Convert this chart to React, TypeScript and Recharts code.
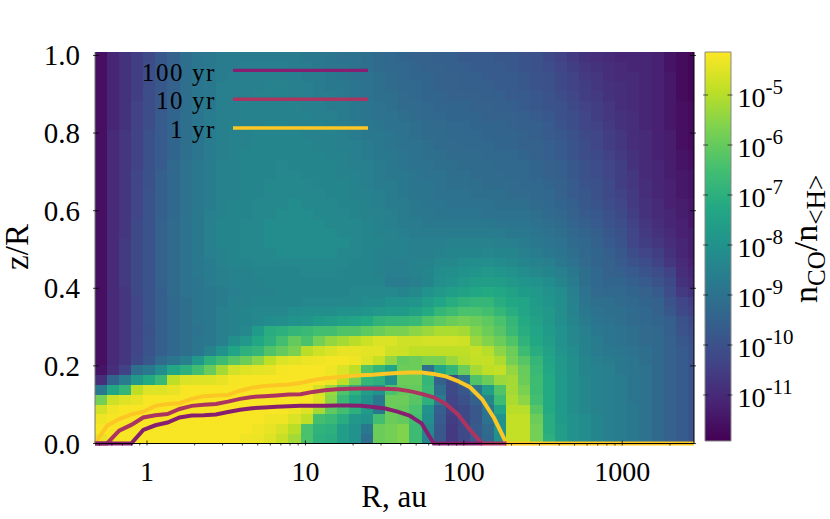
import { BarChart, Bar, ScatterChart, Scatter, XAxis, YAxis } from "recharts";

// log10 of n_CO/n_<H>, one row per z
const row00 = [-4.4,-4.2,-4.2,-4.2,-4.2,-4.2,-4.2,-4.2,-4.2,-4.2,-4.2,-4.2,-4.3,-4.35,-4.5,-4.8,-5.2,-6.4,-7.0,-7.1,-7.6,-8.0,-9.1,-5.9,-5.8,-5.6,-6.6,-8.4,-9.8,-10.6,-10.2,-9.7,-9.3,-8.1,-4.85,-4.85,-5.8,-7.0,-7.6,-8.0,-8.2,-8.4,-8.6,-8.7,-8.8,-9.0,-9.3,-9.5,-9.7,-9.9];
const row01 = [-4.2,-4.2,-4.2,-4.2,-4.2,-4.2,-4.2,-4.2,-4.2,-4.2,-4.2,-4.2,-4.2,-4.3,-4.4,-4.6,-4.95,-6.4,-6.9,-7.0,-7.6,-8.0,-8.8,-5.9,-5.8,-5.6,-6.6,-8.3,-9.8,-10.6,-10.2,-9.7,-9.2,-8.0,-4.85,-4.85,-5.8,-7.1,-7.6,-8.0,-8.2,-8.4,-8.6,-8.7,-8.8,-9.0,-9.3,-9.5,-9.7,-9.9];
const row02 = [-4.3,-4.2,-4.2,-4.2,-4.2,-4.2,-4.2,-4.2,-4.2,-4.2,-4.2,-4.2,-4.2,-4.2,-4.3,-4.3,-4.55,-4.9,-6.5,-6.7,-7.1,-7.8,-8.0,-6.5,-5.9,-6.0,-6.5,-8.1,-9.7,-10.5,-10.2,-9.8,-9.0,-8.0,-4.85,-4.85,-5.9,-7.1,-7.7,-8.0,-8.2,-8.4,-8.6,-8.7,-8.8,-9.0,-9.3,-9.5,-9.7,-9.9];
const row03 = [-4.65,-4.3,-4.2,-4.2,-4.2,-4.2,-4.2,-4.2,-4.2,-4.2,-4.2,-4.2,-4.2,-4.2,-4.2,-4.2,-4.3,-4.5,-5.2,-6.1,-6.5,-7.0,-7.7,-8.8,-5.9,-6.0,-6.4,-8.0,-9.6,-10.4,-10.2,-9.8,-8.9,-7.4,-4.95,-5.0,-6.2,-7.2,-7.7,-8.1,-8.3,-8.5,-8.6,-8.7,-8.8,-9.0,-9.3,-9.5,-9.7,-9.9];
const row04 = [-5.8,-4.7,-4.5,-4.4,-4.2,-4.2,-4.2,-4.2,-4.2,-4.2,-4.2,-4.2,-4.2,-4.2,-4.2,-4.2,-4.2,-4.2,-4.5,-5.5,-6.7,-7.3,-8.0,-8.8,-5.9,-5.9,-6.2,-7.0,-8.7,-10.3,-10.0,-9.5,-8.4,-6.6,-5.1,-5.5,-6.5,-7.2,-7.7,-8.1,-8.3,-8.5,-8.6,-8.7,-8.9,-9.0,-9.3,-9.5,-9.7,-9.9];
const row05 = [-8.8,-7.3,-6.8,-4.9,-4.5,-4.5,-4.4,-4.2,-4.2,-4.2,-4.2,-4.2,-4.2,-4.2,-4.2,-4.2,-4.2,-4.2,-4.6,-5.3,-6.3,-6.9,-7.6,-8.0,-6.4,-6.0,-6.0,-6.7,-9.1,-10.2,-9.8,-8.9,-7.6,-6.3,-5.2,-5.7,-6.6,-7.2,-7.7,-8.1,-8.3,-8.5,-8.6,-8.7,-8.9,-9.0,-9.3,-9.5,-9.7,-9.9];
const row06 = [-10.9,-9.4,-8.7,-7.8,-7.2,-6.7,-4.9,-4.55,-4.5,-4.5,-4.4,-4.25,-4.2,-4.2,-4.2,-4.2,-4.2,-4.2,-4.2,-4.3,-4.9,-5.7,-6.8,-7.0,-8.1,-5.9,-5.9,-6.8,-9.5,-10.2,-9.0,-6.3,-5.9,-5.3,-5.2,-5.9,-6.6,-7.2,-7.7,-8.1,-8.3,-8.5,-8.6,-8.7,-8.9,-9.0,-9.3,-9.5,-9.7,-9.9];
const row07 = [-11.5,-10.9,-10.4,-9.1,-8.8,-8.2,-7.3,-7.0,-6.5,-5.95,-5.2,-4.65,-4.5,-4.45,-4.4,-4.25,-4.2,-4.2,-4.2,-4.3,-4.55,-4.9,-6.3,-6.8,-7.4,-5.9,-5.9,-9.1,-7.4,-6.8,-5.9,-5.2,-4.9,-4.85,-5.4,-5.95,-6.7,-7.3,-7.8,-8.1,-8.4,-8.5,-8.6,-8.8,-8.9,-9.0,-9.3,-9.5,-9.7,-9.9];
const row08 = [-11.6,-11.0,-10.7,-10.2,-9.8,-9.2,-8.9,-8.6,-7.8,-7.0,-6.6,-6.2,-5.9,-5.5,-4.9,-4.55,-4.45,-4.35,-4.3,-4.25,-4.25,-4.3,-4.5,-4.8,-5.4,-6.0,-5.9,-5.7,-5.7,-5.3,-5.0,-4.85,-4.85,-5.1,-5.8,-6.2,-6.8,-7.4,-7.8,-8.1,-8.4,-8.6,-8.7,-8.8,-8.9,-9.1,-9.3,-9.5,-9.7,-9.9];
const row09 = [-11.6,-11.0,-10.7,-10.3,-9.9,-9.6,-9.3,-9.1,-8.9,-8.5,-8.0,-7.4,-7.0,-6.8,-6.3,-6.0,-5.7,-4.95,-4.7,-4.55,-4.4,-4.4,-4.45,-4.45,-4.7,-4.75,-4.9,-4.9,-4.9,-4.9,-4.9,-4.8,-5.0,-5.5,-5.9,-6.6,-7.1,-7.5,-7.9,-8.2,-8.5,-8.7,-8.8,-8.9,-9.0,-9.1,-9.3,-9.5,-9.7,-9.9];
const row10 = [-11.6,-11.0,-10.7,-10.3,-9.9,-9.6,-9.3,-9.1,-8.9,-8.8,-8.6,-8.1,-7.8,-7.3,-7.0,-6.5,-6.0,-6.4,-5.8,-5.4,-5.2,-4.95,-4.75,-4.55,-4.55,-4.7,-4.7,-4.65,-4.65,-4.65,-4.7,-5.3,-5.6,-5.9,-6.3,-6.9,-7.3,-7.6,-8.0,-8.3,-8.5,-8.7,-8.9,-9.0,-9.1,-9.2,-9.3,-9.5,-9.8,-10.0];
const row11 = [-11.6,-11.0,-10.7,-10.3,-10.0,-9.6,-9.3,-9.1,-9.0,-8.8,-8.6,-8.5,-8.3,-7.7,-7.1,-7.0,-6.8,-6.7,-6.5,-6.5,-6.3,-6.3,-6.1,-5.9,-5.7,-5.7,-5.5,-5.3,-5.1,-5.1,-5.2,-5.6,-5.9,-6.2,-6.7,-7.1,-7.4,-7.7,-8.0,-8.3,-8.6,-8.8,-8.9,-9.0,-9.1,-9.2,-9.3,-9.6,-9.9,-10.1];
const row12 = [-11.6,-11.0,-10.7,-10.3,-9.9,-9.6,-9.3,-9.1,-8.9,-8.8,-8.6,-8.5,-8.4,-8.3,-8.2,-8.1,-8.0,-7.9,-7.7,-7.6,-7.5,-7.4,-7.2,-6.9,-6.8,-6.8,-6.7,-6.3,-6.1,-5.9,-5.8,-5.9,-6.1,-6.4,-6.8,-7.2,-7.5,-7.8,-8.1,-8.4,-8.7,-8.9,-9.0,-9.1,-9.2,-9.3,-9.4,-9.6,-10.0,-10.2];
const row13 = [-11.6,-11.0,-10.7,-10.3,-9.9,-9.6,-9.3,-9.1,-8.9,-8.8,-8.6,-8.5,-8.4,-8.3,-8.3,-8.3,-8.2,-8.1,-8.1,-8.1,-8.0,-8.0,-7.9,-7.8,-7.7,-7.7,-7.5,-7.2,-6.8,-6.6,-6.4,-6.4,-6.5,-6.8,-7.1,-7.4,-7.6,-7.8,-8.1,-8.5,-8.8,-9.0,-9.1,-9.1,-9.2,-9.3,-9.5,-9.8,-10.2,-10.4];
const row14 = [-11.6,-11.0,-10.7,-10.3,-9.9,-9.6,-9.3,-9.1,-8.9,-8.8,-8.7,-8.5,-8.5,-8.4,-8.4,-8.4,-8.4,-8.3,-8.3,-8.3,-8.3,-8.3,-8.2,-8.2,-8.0,-8.0,-7.9,-7.6,-7.4,-7.1,-6.9,-6.8,-6.8,-7.1,-7.3,-7.4,-7.7,-7.9,-8.1,-8.5,-8.9,-9.1,-9.1,-9.2,-9.3,-9.4,-9.5,-9.9,-10.3,-10.5];
const row15 = [-11.6,-11.0,-10.7,-10.2,-9.9,-9.6,-9.2,-9.0,-8.9,-8.8,-8.7,-8.6,-8.5,-8.5,-8.5,-8.4,-8.4,-8.4,-8.4,-8.4,-8.4,-8.3,-8.3,-8.3,-8.3,-8.4,-8.3,-8.0,-7.8,-7.6,-7.5,-7.3,-7.2,-7.3,-7.5,-7.7,-7.8,-8.0,-8.2,-8.6,-9.0,-9.2,-9.3,-9.3,-9.4,-9.5,-9.7,-10.1,-10.6,-10.8];
const row16 = [-11.6,-11.0,-10.6,-10.2,-9.9,-9.5,-9.2,-9.0,-8.9,-8.7,-8.6,-8.5,-8.5,-8.5,-8.4,-8.4,-8.4,-8.4,-8.4,-8.4,-8.4,-8.4,-8.4,-8.4,-8.7,-8.7,-8.6,-8.4,-8.1,-8.0,-7.8,-7.6,-7.6,-7.6,-7.8,-7.9,-8.0,-8.2,-8.4,-8.7,-9.1,-9.3,-9.4,-9.4,-9.6,-9.7,-9.9,-10.2,-10.8,-11.0];
const row17 = [-11.6,-11.0,-10.6,-10.2,-9.9,-9.5,-9.2,-9.0,-8.8,-8.7,-8.6,-8.5,-8.5,-8.4,-8.4,-8.4,-8.4,-8.3,-8.3,-8.3,-8.4,-8.4,-8.4,-8.5,-8.6,-8.6,-8.5,-8.4,-8.2,-8.1,-8.0,-7.9,-7.8,-7.9,-8.0,-8.2,-8.3,-8.4,-8.6,-8.8,-9.1,-9.3,-9.5,-9.6,-9.7,-9.9,-10.1,-10.4,-10.9,-11.1];
const row18 = [-11.6,-11.0,-10.6,-10.2,-9.9,-9.5,-9.2,-9.0,-8.8,-8.7,-8.5,-8.4,-8.4,-8.3,-8.3,-8.3,-8.3,-8.3,-8.3,-8.3,-8.3,-8.4,-8.4,-8.5,-8.6,-8.6,-8.5,-8.5,-8.3,-8.3,-8.2,-8.1,-8.1,-8.2,-8.3,-8.4,-8.5,-8.6,-8.8,-9.0,-9.2,-9.4,-9.5,-9.7,-9.9,-10.1,-10.4,-10.7,-11.0,-11.2];
const row19 = [-11.6,-11.0,-10.6,-10.2,-9.9,-9.5,-9.2,-9.0,-8.8,-8.6,-8.5,-8.4,-8.3,-8.3,-8.3,-8.2,-8.2,-8.2,-8.2,-8.2,-8.3,-8.3,-8.4,-8.5,-8.5,-8.5,-8.6,-8.6,-8.5,-8.4,-8.4,-8.4,-8.3,-8.4,-8.4,-8.6,-8.7,-8.8,-8.9,-9.1,-9.3,-9.4,-9.6,-9.8,-10.1,-10.3,-10.5,-10.8,-11.1,-11.3];
const row20 = [-11.6,-11.0,-10.6,-10.2,-9.9,-9.5,-9.2,-9.0,-8.8,-8.6,-8.4,-8.4,-8.3,-8.3,-8.2,-8.2,-8.2,-8.2,-8.2,-8.2,-8.2,-8.3,-8.4,-8.4,-8.5,-8.5,-8.6,-8.6,-8.6,-8.5,-8.5,-8.5,-8.5,-8.6,-8.6,-8.7,-8.8,-8.9,-9.0,-9.2,-9.3,-9.5,-9.7,-9.9,-10.3,-10.5,-10.7,-10.9,-11.1,-11.3];
const row21 = [-11.6,-11.0,-10.7,-10.2,-9.9,-9.5,-9.2,-9.0,-8.8,-8.6,-8.4,-8.4,-8.3,-8.3,-8.2,-8.2,-8.2,-8.2,-8.2,-8.2,-8.3,-8.3,-8.4,-8.5,-8.5,-8.6,-8.7,-8.7,-8.7,-8.7,-8.7,-8.7,-8.7,-8.7,-8.8,-8.8,-8.9,-9.0,-9.1,-9.3,-9.4,-9.6,-9.8,-10.0,-10.3,-10.6,-10.8,-11.0,-11.2,-11.3];
const row22 = [-11.6,-11.0,-10.7,-10.2,-9.9,-9.5,-9.2,-9.0,-8.8,-8.6,-8.4,-8.4,-8.3,-8.3,-8.2,-8.2,-8.2,-8.2,-8.2,-8.3,-8.3,-8.3,-8.4,-8.5,-8.6,-8.7,-8.7,-8.8,-8.8,-8.8,-8.8,-8.8,-8.8,-8.9,-8.9,-8.9,-9.0,-9.1,-9.2,-9.4,-9.6,-9.7,-9.9,-10.1,-10.4,-10.7,-10.9,-11.1,-11.2,-11.4];
const row23 = [-11.6,-11.0,-10.7,-10.3,-9.9,-9.6,-9.3,-9.0,-8.8,-8.6,-8.5,-8.4,-8.4,-8.3,-8.3,-8.2,-8.2,-8.2,-8.3,-8.3,-8.3,-8.4,-8.5,-8.5,-8.6,-8.7,-8.8,-8.8,-8.9,-8.9,-8.9,-8.9,-9.0,-9.0,-9.0,-9.0,-9.1,-9.2,-9.3,-9.5,-9.7,-9.8,-10.0,-10.2,-10.5,-10.8,-11.0,-11.1,-11.3,-11.4];
const row24 = [-11.6,-11.0,-10.7,-10.3,-9.9,-9.6,-9.3,-9.0,-8.8,-8.7,-8.5,-8.4,-8.4,-8.3,-8.3,-8.3,-8.2,-8.3,-8.3,-8.3,-8.4,-8.4,-8.5,-8.6,-8.7,-8.7,-8.8,-8.9,-8.9,-9.0,-9.0,-9.0,-9.0,-9.1,-9.1,-9.1,-9.2,-9.3,-9.4,-9.6,-9.8,-9.9,-10.1,-10.3,-10.6,-10.8,-11.0,-11.2,-11.3,-11.4];
const row25 = [-11.6,-11.0,-10.7,-10.3,-9.9,-9.6,-9.3,-9.0,-8.8,-8.7,-8.5,-8.5,-8.4,-8.4,-8.3,-8.3,-8.3,-8.3,-8.3,-8.4,-8.4,-8.5,-8.5,-8.6,-8.7,-8.8,-8.9,-8.9,-9.0,-9.0,-9.0,-9.1,-9.1,-9.1,-9.2,-9.2,-9.3,-9.3,-9.5,-9.7,-9.8,-10.0,-10.2,-10.4,-10.6,-10.9,-11.1,-11.2,-11.4,-11.5];
const row26 = [-11.6,-11.0,-10.7,-10.3,-10.0,-9.6,-9.3,-9.0,-8.8,-8.7,-8.5,-8.5,-8.4,-8.4,-8.3,-8.3,-8.3,-8.3,-8.4,-8.4,-8.4,-8.5,-8.6,-8.7,-8.7,-8.8,-8.9,-8.9,-9.0,-9.1,-9.1,-9.1,-9.2,-9.2,-9.2,-9.3,-9.3,-9.4,-9.5,-9.7,-9.9,-10.0,-10.2,-10.5,-10.7,-10.9,-11.1,-11.2,-11.4,-11.5];
const row27 = [-11.6,-11.0,-10.7,-10.3,-10.0,-9.6,-9.3,-9.0,-8.8,-8.7,-8.5,-8.5,-8.4,-8.4,-8.4,-8.3,-8.3,-8.4,-8.4,-8.4,-8.5,-8.5,-8.6,-8.7,-8.8,-8.8,-8.9,-9.0,-9.0,-9.1,-9.1,-9.2,-9.2,-9.2,-9.3,-9.3,-9.4,-9.5,-9.6,-9.8,-10.0,-10.1,-10.3,-10.5,-10.7,-11.0,-11.1,-11.3,-11.4,-11.5];
const row28 = [-11.6,-11.0,-10.7,-10.4,-10.0,-9.7,-9.3,-9.0,-8.8,-8.7,-8.5,-8.5,-8.4,-8.4,-8.4,-8.3,-8.4,-8.4,-8.4,-8.4,-8.5,-8.6,-8.6,-8.7,-8.8,-8.9,-9.0,-9.0,-9.1,-9.1,-9.2,-9.2,-9.2,-9.3,-9.3,-9.3,-9.4,-9.5,-9.6,-9.8,-10.0,-10.1,-10.3,-10.5,-10.8,-11.0,-11.1,-11.3,-11.5,-11.6];
const row29 = [-11.6,-11.0,-10.7,-10.4,-10.0,-9.7,-9.4,-9.1,-8.9,-8.7,-8.6,-8.5,-8.4,-8.4,-8.4,-8.4,-8.4,-8.4,-8.4,-8.5,-8.5,-8.6,-8.7,-8.8,-8.8,-8.9,-9.0,-9.1,-9.1,-9.2,-9.2,-9.2,-9.3,-9.3,-9.3,-9.4,-9.5,-9.6,-9.7,-9.9,-10.1,-10.2,-10.4,-10.6,-10.8,-11.0,-11.2,-11.3,-11.5,-11.6];
const row30 = [-11.6,-11.0,-10.7,-10.4,-10.0,-9.7,-9.4,-9.1,-8.9,-8.7,-8.6,-8.5,-8.5,-8.4,-8.4,-8.4,-8.4,-8.4,-8.5,-8.5,-8.6,-8.6,-8.7,-8.8,-8.9,-9.0,-9.0,-9.1,-9.2,-9.2,-9.3,-9.3,-9.3,-9.4,-9.4,-9.5,-9.5,-9.6,-9.7,-9.9,-10.1,-10.3,-10.5,-10.7,-10.9,-11.0,-11.2,-11.3,-11.6,-11.7];
const row31 = [-11.6,-11.0,-10.7,-10.4,-10.0,-9.7,-9.4,-9.1,-8.9,-8.7,-8.6,-8.5,-8.5,-8.4,-8.4,-8.4,-8.4,-8.5,-8.5,-8.5,-8.6,-8.7,-8.8,-8.8,-8.9,-9.0,-9.1,-9.2,-9.2,-9.3,-9.3,-9.3,-9.4,-9.4,-9.4,-9.5,-9.6,-9.7,-9.8,-10.0,-10.2,-10.3,-10.5,-10.7,-10.9,-11.0,-11.2,-11.3,-11.6,-11.7];
const row32 = [-11.6,-11.1,-10.8,-10.4,-10.1,-9.7,-9.4,-9.1,-8.9,-8.7,-8.6,-8.5,-8.5,-8.5,-8.4,-8.4,-8.5,-8.5,-8.5,-8.6,-8.6,-8.7,-8.8,-8.9,-9.0,-9.0,-9.1,-9.2,-9.2,-9.3,-9.3,-9.4,-9.4,-9.4,-9.5,-9.6,-9.6,-9.7,-9.9,-10.1,-10.3,-10.4,-10.6,-10.8,-10.9,-11.1,-11.2,-11.4,-11.6,-11.7];
const row33 = [-11.6,-11.1,-10.8,-10.4,-10.1,-9.7,-9.4,-9.1,-8.9,-8.7,-8.6,-8.6,-8.5,-8.5,-8.5,-8.5,-8.5,-8.5,-8.6,-8.6,-8.7,-8.8,-8.9,-9.0,-9.0,-9.1,-9.2,-9.3,-9.3,-9.4,-9.4,-9.4,-9.5,-9.5,-9.5,-9.6,-9.7,-9.8,-10.0,-10.1,-10.3,-10.5,-10.7,-10.8,-10.9,-11.1,-11.2,-11.4,-11.6,-11.7];
const row34 = [-11.6,-11.1,-10.8,-10.4,-10.1,-9.8,-9.4,-9.1,-8.9,-8.8,-8.6,-8.6,-8.5,-8.5,-8.5,-8.5,-8.5,-8.6,-8.6,-8.7,-8.7,-8.8,-8.9,-9.0,-9.1,-9.2,-9.2,-9.3,-9.4,-9.4,-9.4,-9.5,-9.5,-9.6,-9.6,-9.7,-9.8,-9.9,-10.0,-10.2,-10.4,-10.5,-10.7,-10.9,-11.0,-11.1,-11.2,-11.4,-11.6,-11.7];
const row35 = [-11.6,-11.1,-10.8,-10.5,-10.1,-9.8,-9.5,-9.1,-8.9,-8.8,-8.6,-8.6,-8.6,-8.5,-8.5,-8.5,-8.6,-8.6,-8.7,-8.7,-8.8,-8.9,-9.0,-9.1,-9.1,-9.2,-9.3,-9.4,-9.4,-9.5,-9.5,-9.5,-9.6,-9.6,-9.7,-9.7,-9.8,-9.9,-10.1,-10.3,-10.5,-10.6,-10.8,-10.9,-11.0,-11.1,-11.2,-11.4,-11.7,-11.8];
const row36 = [-11.6,-11.1,-10.8,-10.5,-10.1,-9.8,-9.5,-9.1,-8.9,-8.8,-8.6,-8.6,-8.6,-8.6,-8.5,-8.5,-8.6,-8.6,-8.7,-8.8,-8.8,-8.9,-9.0,-9.1,-9.2,-9.3,-9.3,-9.4,-9.5,-9.5,-9.6,-9.6,-9.6,-9.7,-9.7,-9.8,-9.9,-10.0,-10.2,-10.4,-10.5,-10.7,-10.8,-10.9,-11.0,-11.1,-11.2,-11.4,-11.7,-11.8];
const row37 = [-11.6,-11.1,-10.8,-10.5,-10.1,-9.8,-9.5,-9.1,-8.9,-8.8,-8.7,-8.6,-8.6,-8.6,-8.6,-8.6,-8.6,-8.7,-8.7,-8.8,-8.9,-9.0,-9.0,-9.1,-9.2,-9.3,-9.4,-9.4,-9.5,-9.5,-9.6,-9.6,-9.7,-9.7,-9.7,-9.8,-9.9,-10.0,-10.2,-10.4,-10.6,-10.7,-10.9,-11.0,-11.0,-11.1,-11.2,-11.4,-11.7,-11.8];
const row38 = [-11.6,-11.1,-10.8,-10.5,-10.1,-9.8,-9.5,-9.1,-8.9,-8.8,-8.7,-8.7,-8.6,-8.6,-8.6,-8.6,-8.7,-8.7,-8.8,-8.9,-8.9,-9.0,-9.1,-9.2,-9.3,-9.3,-9.4,-9.5,-9.5,-9.6,-9.6,-9.7,-9.7,-9.7,-9.8,-9.9,-10.0,-10.1,-10.3,-10.5,-10.7,-10.8,-10.9,-11.0,-11.1,-11.1,-11.2,-11.5,-11.7,-11.8];
const row39 = [-11.6,-11.1,-10.8,-10.5,-10.2,-9.8,-9.5,-9.1,-8.9,-8.8,-8.7,-8.7,-8.7,-8.7,-8.7,-8.7,-8.7,-8.8,-8.8,-8.9,-9.0,-9.0,-9.1,-9.2,-9.3,-9.4,-9.5,-9.5,-9.6,-9.6,-9.7,-9.7,-9.7,-9.8,-9.8,-9.9,-10.0,-10.2,-10.4,-10.6,-10.8,-10.9,-11.0,-11.1,-11.1,-11.1,-11.2,-11.5,-11.7,-11.8];
const cellRows = [row00,row01,row02,row03,row04,row05,row06,row07,row08,row09,row10,row11,row12,row13,row14,row15,row16,row17,row18,row19,row20,row21,row22,row23,row24,row25,row26,row27,row28,row29,row30,row31,row32,row33,row34,row35,row36,row37,row38,row39];

const rCenters = [0.513,0.611,0.729,0.869,1.036,1.235,1.472,1.755,2.092,2.494,2.977,3.55,4.232,5.046,6.015,7.173,8.553,10.2,12.16,14.5,17.29,20.61,24.57,29.31,34.94,41.66,49.67,59.23,70.62,84.2,100.4,119.7,142.7,170.2,202.9,241.9,288.4,343.9,410,489,583,695,829,988,1178,1405,1675,1997,2381,2838];
const zCenters = [0.0126,0.0378,0.0631,0.0883,0.1135,0.1388,0.164,0.1892,0.2145,0.2397,0.2649,0.2902,0.3154,0.3406,0.3658,0.3911,0.4163,0.4415,0.4668,0.492,0.5172,0.5425,0.5677,0.5929,0.6182,0.6434,0.6686,0.6939,0.7191,0.7443,0.7696,0.7948,0.82,0.8452,0.8705,0.8957,0.9209,0.9462,0.9714,0.9966];

// contours: radius nodes and z of each front
const contourR = [0.4695,0.559,0.667,0.795,0.947,1.129,1.346,1.605,1.914,2.282,2.72,3.243,3.867,4.611,5.497,6.555,7.815,9.318,11.11,13.25,15.8,18.83,22.46,26.78,31.93,38.07,45.39,54.12,64.53,76.94,91.74,109.4,130.4,155.5,185.9,2838];
const z1yr = [0,0.046,0.063,0.075,0.082,0.097,0.102,0.104,0.115,0.122,0.124,0.125,0.136,0.144,0.148,0.15,0.152,0.156,0.163,0.168,0.171,0.174,0.176,0.177,0.18,0.182,0.183,0.183,0.179,0.173,0.161,0.145,0.114,0.065,0,0];
const z10yr = [0,0,0.033,0.048,0.067,0.073,0.076,0.089,0.097,0.1,0.102,0.108,0.115,0.12,0.122,0.124,0.126,0.127,0.133,0.137,0.14,0.141,0.142,0.142,0.141,0.14,0.135,0.128,0.119,0.102,0.075,0.035,0,0,0];
const z100yr = [0,0,0,0,0.035,0.047,0.054,0.067,0.072,0.073,0.075,0.081,0.087,0.091,0.093,0.095,0.096,0.097,0.097,0.097,0.098,0.098,0.097,0.094,0.09,0.082,0.072,0.052,0,0,0,0,0];

const seriesNames = ["100 yr", "10 yr", "1 yr"];
const seriesColors = ["#871f70", "#ab3560", "#fcc625"];

const rTicks = [0.5,0.6,0.7,0.8,0.9,1,2,3,4,5,6,7,8,9,10,20,30,40,50,60,70,80,90,100,200,300,400,500,600,700,800,900,1000,2000];
const rLabels = [1, 10, 100, 1000];
const zTicks = [0, 0.2, 0.4, 0.6, 0.8, 1];
const cbTicks = [-5, -6, -7, -8, -9, -10, -11];
const cbDomain = [-11.92, -4.14];
const rDomain = [0.4695, 2838];
const zDomain = [0, 1.009];

const viridis = ["#440154","#482475","#414487","#355f8d","#2a788e","#21918c","#22a884","#44bf70","#7ad151","#bddf26","#fde725"];

const font = "'Liberation Serif', serif";
const layer: any = { position: "absolute", left: 0, top: 0 };

function colorOf(v: number) {
  const t = Math.min(0.9999, Math.max(0, (v - cbDomain[0]) / (cbDomain[1] - cbDomain[0]))) * (viridis.length - 1);
  const i = Math.floor(t);
  const f = t - i;
  const a = viridis[i], b = viridis[i + 1];
  const ch = (o: number) => Math.round(parseInt(a.slice(o, o + 2), 16) * (1 - f) + parseInt(b.slice(o, o + 2), 16) * f);
  return `rgb(${ch(1)},${ch(3)},${ch(5)})`;
}

const cells = cellRows.flatMap((row, j) => row.map((v, i) => ({ r: rCenters[i], z: zCenters[j], v })));
const curve = (zs: number[]) => zs.map((z, i) => ({ r: contourR[i], z }));
const axisAnchor = [{ r: 1, z: 0 }];
const cbBar = [{ name: "cb", range: cbDomain }];

const CellShape = ({ cx, cy, payload }: any) => (
  <rect x={cx - 6.2} y={cy - 5.1} width={12.4} height={10.2} fill={colorOf(payload.v)} shapeRendering="crispEdges" />
);
const NoDot = () => null;

const isDecade = (v: number) => rLabels.includes(v);

const BottomTick = ({ x, y, payload }: any) => (
  <g>
    <line x1={x} x2={x} y1={y} y2={y - (isDecade(payload.value) ? 5 : 2.5)} stroke="#000" opacity={0.75} />
    {isDecade(payload.value) && <text x={x} y={y + 35} textAnchor="middle" fontSize={28} fontFamily={font} fill="#000">{payload.value}</text>}
  </g>
);
const TopTick = ({ x, y, payload }: any) => (
  <line x1={x} x2={x} y1={y} y2={y + (isDecade(payload.value) ? 5 : 2.5)} stroke="#000" opacity={0.75} />
);
const LeftTick = ({ x, y, payload }: any) => (
  <g>
    <line x1={x} x2={x + 6} y1={y} y2={y} stroke="#000" opacity={0.75} />
    <text x={x - 13} y={y + 10} textAnchor="end" fontSize={29} fontFamily={font} fill="#000">{payload.value.toFixed(1)}</text>
  </g>
);
const RightTick = ({ x, y }: any) => <line x1={x} x2={x - 6} y1={y} y2={y} stroke="#000" opacity={0.75} />;

const CbRightTick = ({ x, y, payload }: any) => (
  <g>
    <line x1={x} x2={x - 5} y1={y} y2={y} stroke="#000" opacity={0.6} />
    <text x={x + 5} y={y + 12} fontSize={28} fontFamily={font} fill="#000">
      10<tspan dy={-13} fontSize={21}>{payload.value}</tspan>
    </text>
  </g>
);
const CbLeftTick = ({ x, y }: any) => <line x1={x} x2={x + 5} y1={y} y2={y} stroke="#000" opacity={0.6} />;

export default function App() {
  const series = [z100yr, z10yr, z1yr];
  return (
    <div style={{ ...layer, width: 830, height: 519, fontFamily: font, background: "#fff" }}>
      {/* heat map and contours */}
      <ScatterChart width={830} height={519} margin={{ top: 52, right: 136, bottom: 75.5, left: 95 }} style={layer}>
        <XAxis xAxisId="r" type="number" dataKey="r" scale="log" domain={rDomain} allowDataOverflow hide />
        <XAxis xAxisId="rLine" type="number" dataKey="r" scale="log" domain={rDomain} hide />
        <YAxis yAxisId="z" type="number" dataKey="z" domain={zDomain} allowDataOverflow hide />
        <YAxis yAxisId="zLine" type="number" dataKey="z" domain={zDomain} hide />
        <Scatter xAxisId="r" yAxisId="z" data={cells} shape={CellShape} isAnimationActive={false} />
        {[2, 1, 0].map(k => (
          <Scatter key={k} name={seriesNames[k]} xAxisId="rLine" yAxisId="zLine" data={curve(series[k])} line={{ stroke: seriesColors[k], strokeWidth: 4 }} shape={NoDot} isAnimationActive={false} />
        ))}
      </ScatterChart>

      {/* frame, ticks, labels and legend go on top of the series */}
      <ScatterChart width={830} height={519} margin={{ top: 52, right: 0, bottom: 0, left: 0 }} style={layer}>
        <XAxis xAxisId="r" type="number" dataKey="r" scale="log" domain={rDomain} ticks={rTicks} interval={0} height={75.5} tickSize={0} tickLine={false} tick={BottomTick} axisLine={{ stroke: "#000" }} />
        <XAxis xAxisId="rTop" orientation="top" type="number" dataKey="r" scale="log" domain={rDomain} ticks={rTicks} interval={0} height={0} tickSize={0} tickLine={false} tick={TopTick} axisLine={{ stroke: "#000" }} />
        <YAxis yAxisId="z" type="number" dataKey="z" domain={zDomain} ticks={zTicks} interval={0} width={95} tickSize={0} tickLine={false} tick={LeftTick} axisLine={{ stroke: "#777" }} />
        <YAxis yAxisId="zRight" orientation="right" type="number" dataKey="z" domain={zDomain} ticks={zTicks} interval={0} width={136} tickSize={0} tickLine={false} tick={RightTick} axisLine={{ stroke: "#000" }} />
        <Scatter xAxisId="r" yAxisId="z" data={axisAnchor} shape={NoDot} isAnimationActive={false} />
        <Scatter xAxisId="rTop" yAxisId="zRight" data={axisAnchor} shape={NoDot} isAnimationActive={false} />
        <text x={394} y={507} textAnchor="middle" fontSize={31} fontFamily={font} fill="#000">R, au</text>
        <text transform="translate(28,247) rotate(-90)" textAnchor="middle" fontSize={33} fontFamily={font} fill="#000">z/R</text>
        {seriesNames.map((name, k) => (
          <g key={name}>
            <text x={216} y={80.5 + k * 28.7} textAnchor="end" fontSize={25} letterSpacing={1.6} fontFamily={font} fill="#000">{name}</text>
            <line x1={233} x2={368} y1={70.4 + k * 28.8} y2={70.4 + k * 28.8} stroke={seriesColors[k]} strokeWidth={3.4} />
          </g>
        ))}
      </ScatterChart>

      {/* colour bar */}
      <BarChart data={cbBar} width={830} height={519} barCategoryGap={0} margin={{ top: 52, right: 99.5, bottom: 78, left: 705 }} style={layer}>
        <defs>
          <linearGradient id="viridisBar" x1="0" y1="1" x2="0" y2="0">
            {viridis.map((c, i) => <stop key={c} offset={i / (viridis.length - 1)} stopColor={c} />)}
          </linearGradient>
        </defs>
        <XAxis dataKey="name" hide />
        <YAxis type="number" domain={cbDomain} hide />
        <Bar dataKey="range" fill="url(#viridisBar)" stroke="#888" isAnimationActive={false} />
      </BarChart>
      <ScatterChart width={830} height={519} margin={{ top: 52, right: 0, bottom: 78, left: 0 }} style={layer}>
        <XAxis type="number" dataKey="r" domain={[0, 2]} hide />
        <YAxis yAxisId="cb" type="number" dataKey="z" domain={cbDomain} ticks={cbTicks} interval={0} width={705} tickSize={0} tickLine={false} tick={CbLeftTick} axisLine={false} />
        <YAxis yAxisId="cbR" orientation="right" type="number" dataKey="z" domain={cbDomain} ticks={cbTicks} interval={0} width={99.5} tickSize={0} tickLine={false} tick={CbRightTick} axisLine={false} />
        <Scatter yAxisId="cb" data={[{ r: 1, z: -8 }]} shape={NoDot} isAnimationActive={false} />
        <Scatter yAxisId="cbR" data={[{ r: 1, z: -8 }]} shape={NoDot} isAnimationActive={false} />
        <text transform="translate(817,303) rotate(-90)" fontSize={34} fontFamily={font} fill="#000">
          n<tspan dy={8} fontSize={25}>CO</tspan><tspan dy={-8}>/n</tspan><tspan dy={8} fontSize={27}>{"<H>"}</tspan>
        </text>
      </ScatterChart>
    </div>
  );
}
